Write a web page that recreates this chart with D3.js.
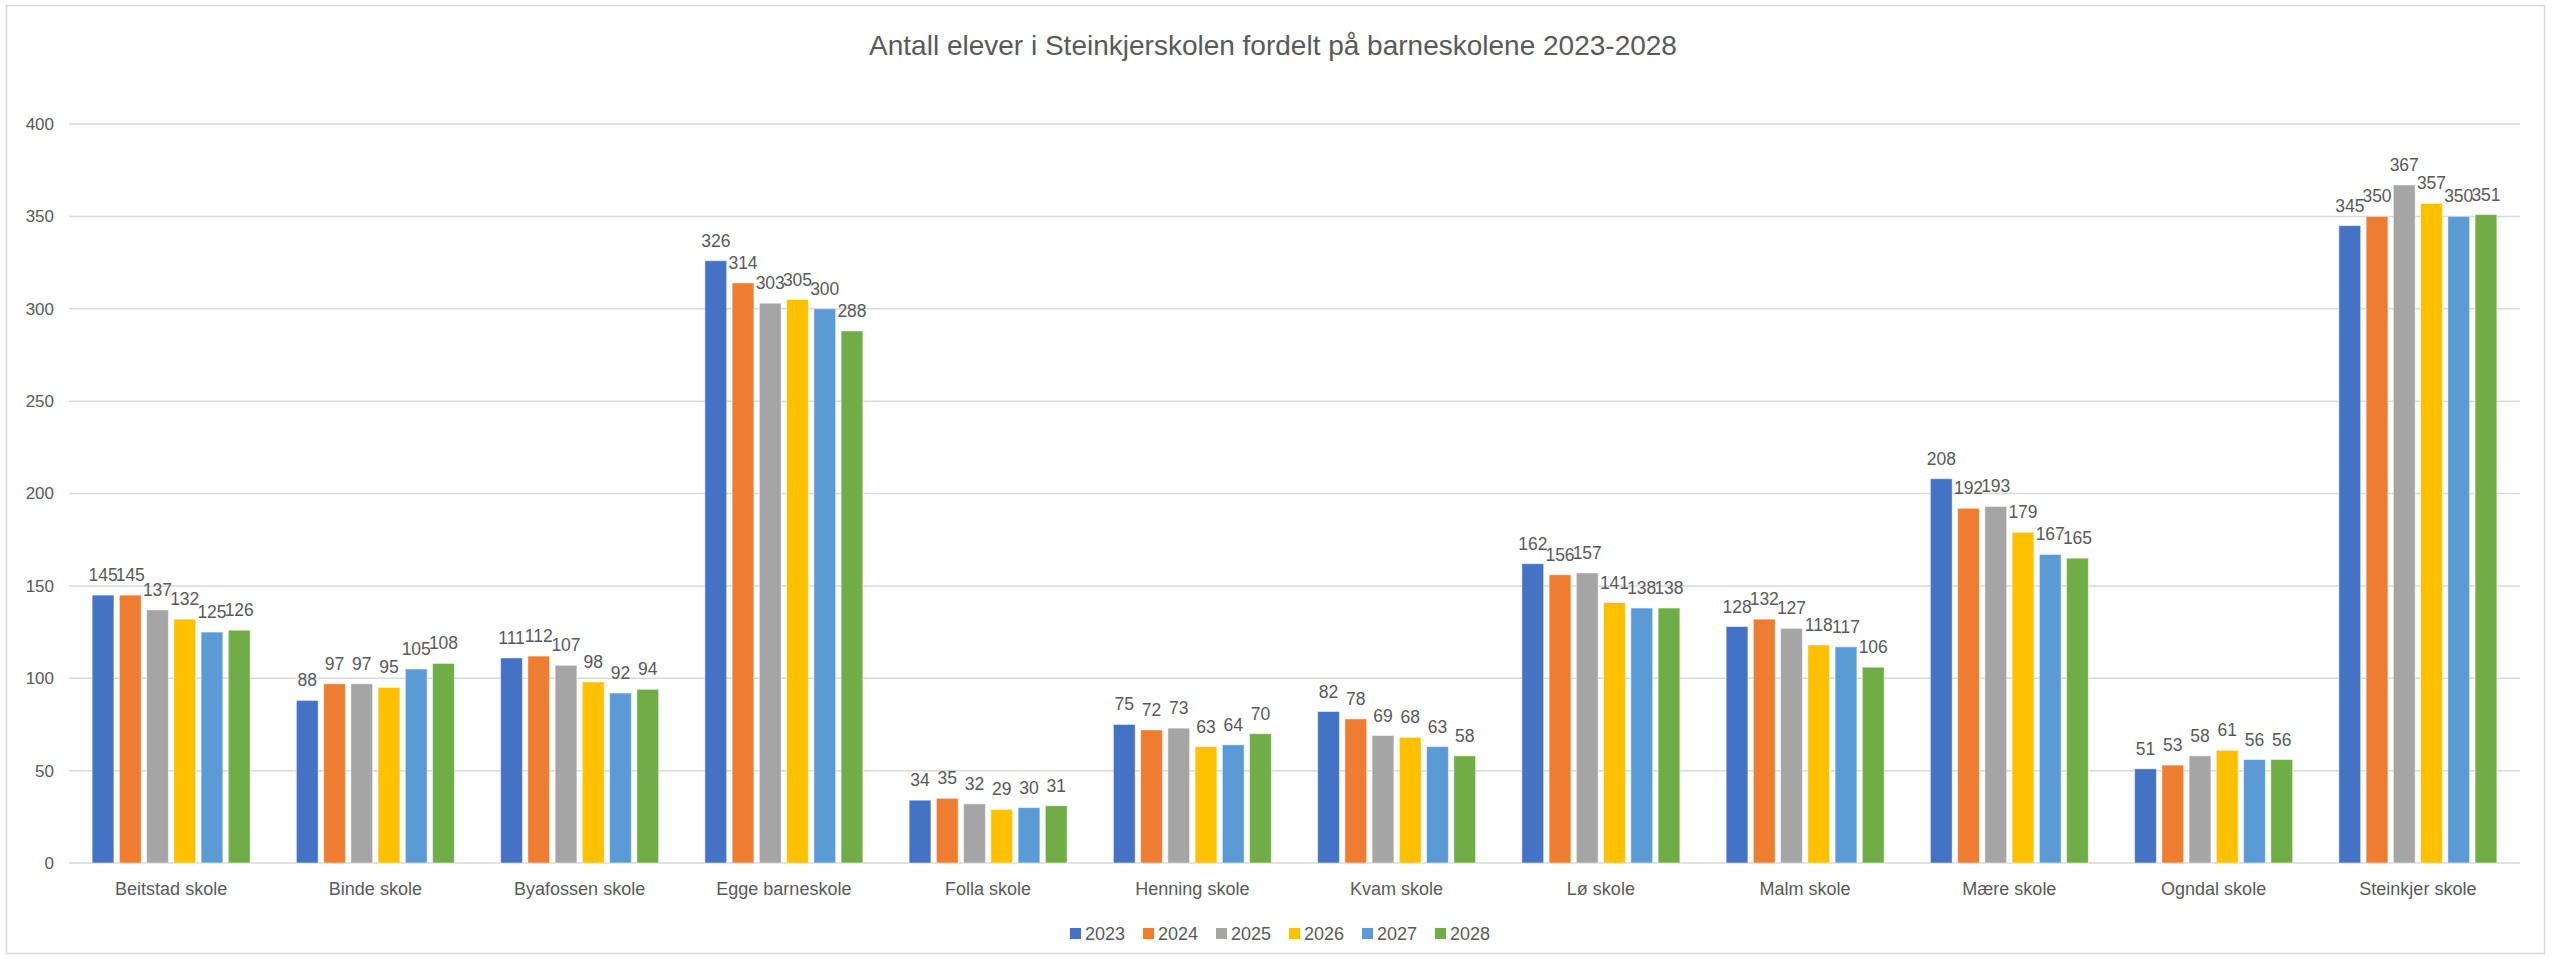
<!DOCTYPE html>
<html>
<head>
<meta charset="utf-8">
<script src="https://cdn.jsdelivr.net/npm/d3@7"></script>
<style>
  body { margin: 0; background: #fff; }
  text { font-family: "Liberation Sans", Arial, sans-serif; fill: #595959; }
</style>
</head>
<body>
<div id="chart"></div>
<script>
var schools = ["Beitstad skole", "Binde skole", "Byafossen skole", "Egge barneskole", "Folla skole",
  "Henning skole", "Kvam skole", "Lø skole", "Malm skole", "Mære skole", "Ogndal skole", "Steinkjer skole"];
var years = ["2023", "2024", "2025", "2026", "2027", "2028"];
var colors = ["#4472C4", "#ED7D31", "#A5A5A5", "#FFC000", "#5B9BD5", "#70AD47"];
var yTicks = [0, 50, 100, 150, 200, 250, 300, 350, 400];

var v2023 = [145, 88, 111, 326, 34, 75, 82, 162, 128, 208, 51, 345];
var v2024 = [145, 97, 112, 314, 35, 72, 78, 156, 132, 192, 53, 350];
var v2025 = [137, 97, 107, 303, 32, 73, 69, 157, 127, 193, 58, 367];
var v2026 = [132, 95, 98, 305, 29, 63, 68, 141, 118, 179, 61, 357];
var v2027 = [125, 105, 92, 300, 30, 64, 63, 138, 117, 167, 56, 350];
var v2028 = [126, 108, 94, 288, 31, 70, 58, 138, 106, 165, 56, 351];
var series = [v2023, v2024, v2025, v2026, v2027, v2028];

var svgWidth = 2553;
var svgHeight = 959;
var margin = { top: 124, right: 33, bottom: 96, left: 69 };
var width = svgWidth - margin.left - margin.right;
var height = svgHeight - margin.top - margin.bottom;

var svg = d3.select("#chart")
  .append("svg")
  .attr("width", svgWidth)
  .attr("height", svgHeight);

// outer frame
svg.append("rect")
  .attr("x", 6.5).attr("y", 5.5)
  .attr("width", 2538).attr("height", 948)
  .attr("fill", "none")
  .attr("stroke", "#d9d9d9")
  .attr("stroke-width", 1.5);

svg.append("text")
  .attr("x", 1273)
  .attr("y", 55)
  .attr("text-anchor", "middle")
  .style("font-size", "28px")
  .text("Antall elever i Steinkjerskolen fordelt på barneskolene 2023-2028");

var g = svg.append("g")
  .attr("transform", `translate(${margin.left}, ${margin.top})`);

var x0 = d3.scaleBand()
  .domain(schools)
  .range([0, width])
  .padding(0);

var groupWidth = 158;
var x1 = d3.scaleBand()
  .domain(years)
  .range([0, groupWidth])
  .paddingInner(0.2);

var y = d3.scaleLinear()
  .domain([0, 400])
  .range([height, 0]);

// gridlines
g.selectAll(".grid")
  .data(yTicks)
  .enter()
  .append("line")
  .attr("x1", 0)
  .attr("x2", width)
  .attr("y1", d => y(d))
  .attr("y2", d => y(d))
  .attr("stroke", "#d9d9d9")
  .attr("stroke-width", 1.5);

// y tick labels
g.selectAll(".ytick")
  .data(yTicks)
  .enter()
  .append("text")
  .attr("x", -15)
  .attr("y", d => y(d))
  .attr("dy", "0.35em")
  .attr("text-anchor", "end")
  .style("font-size", "17px")
  .text(d => d);

var groups = g.selectAll(".school")
  .data(schools)
  .enter()
  .append("g")
  .attr("transform", d => `translate(${x0(d) + (x0.bandwidth() - groupWidth) / 2}, 0)`);

groups.selectAll("rect")
  .data((d, i) => years.map((yr, j) => ({ year: yr, value: series[j][i], color: colors[j] })))
  .enter()
  .append("rect")
  .attr("x", d => x1(d.year))
  .attr("y", d => y(d.value))
  .attr("width", x1.bandwidth())
  .attr("height", d => height - y(d.value))
  .attr("fill", d => d.color)
  .attr("stroke", "#ffffff")
  .attr("stroke-opacity", 0.5)
  .attr("stroke-width", 1);

groups.selectAll(".lbl")
  .data((d, i) => years.map((yr, j) => ({ year: yr, value: series[j][i] })))
  .enter()
  .append("text")
  .attr("x", d => x1(d.year) + x1.bandwidth() / 2)
  .attr("y", d => y(d.value) - 14)
  .attr("text-anchor", "middle")
  .style("font-size", "17.5px")
  .text(d => d.value);

// category labels
g.selectAll(".cat")
  .data(schools)
  .enter()
  .append("text")
  .attr("x", d => x0(d) + x0.bandwidth() / 2)
  .attr("y", height + 32)
  .attr("text-anchor", "middle")
  .style("font-size", "18px")
  .text(d => d);

// legend
var legendStep = 73;
var legendX = 1070;
var legend = svg.selectAll(".legend")
  .data(years)
  .enter()
  .append("g")
  .attr("transform", (d, i) => `translate(${legendX + i * legendStep}, 934)`);

legend.append("rect")
  .attr("x", 0).attr("y", -6)
  .attr("width", 11).attr("height", 11)
  .attr("fill", (d, i) => colors[i]);

legend.append("text")
  .attr("x", 15)
  .attr("y", 0)
  .attr("dy", "0.35em")
  .style("font-size", "18px")
  .text(d => d);
</script>
</body>
</html>
